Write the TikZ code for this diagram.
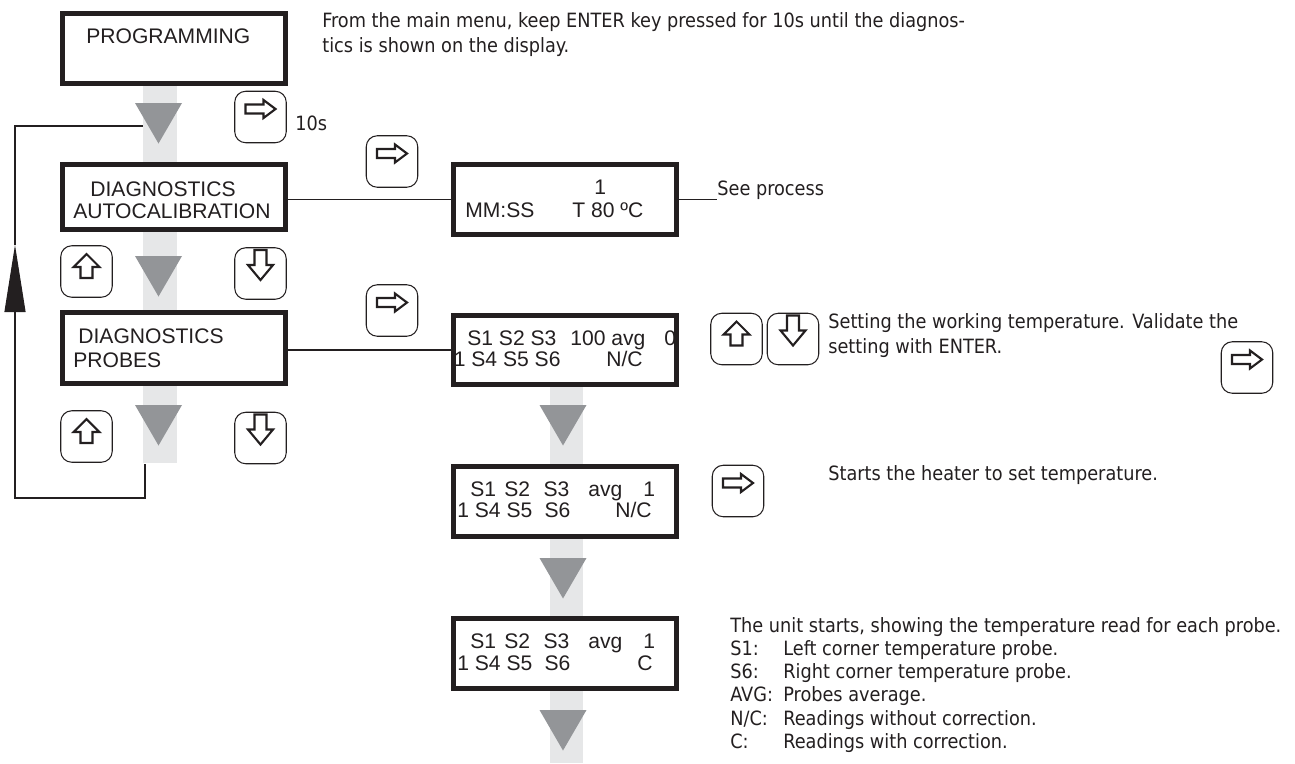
\documentclass[tikz,border=0pt]{standalone}
\usepackage{fontspec}
\setmainfont{Liberation Sans}
\newfontfamily\notefamily{DejaVu Sans Condensed}
\usetikzlibrary{arrows.meta,calc}
\definecolor{ink}{HTML}{231F20}
\definecolor{bandgray}{HTML}{E6E7E8}
\definecolor{trigray}{HTML}{939598}
\tikzset{
  lcd/.style={
    draw=ink,
    line width=2.8pt,
    fill=white,
    minimum width=4.46cm,
    minimum height=1.40cm,
    inner sep=0pt
  },
  lcdtxt/.style={
    anchor=base west,
    inner sep=0pt,
    text=ink,
    font=\fontsize{12}{12.5}\selectfont
  },
  note/.style={
    anchor=north west,
    inner sep=0pt,
    align=left,
    text=ink,
    font=\notefamily\fontsize{11.2}{14.6}\selectfont
  },
  key/.style={
    draw=ink,
    line width=0.6pt,
    rounded corners=0.22cm,
    minimum size=1.03cm,
    inner sep=0pt
  },
  keyglyph/.style={draw=ink, line width=1.2pt, fill=white, sharp corners, line join=miter},
  keyR/.style={key, path picture={
    \draw[keyglyph, shift={(path picture bounding box.center)}]
      (-0.30,0.07) -- (0.06,0.07) -- (0.06,-0.02) -- (0.30,0.16)
      -- (0.06,0.34) -- (0.06,0.25) -- (-0.30,0.25) -- cycle;}},
  keyU/.style={key, path picture={
    \draw[keyglyph, shift={(path picture bounding box.center)}]
      (-0.12,-0.13) -- (-0.12,0.09) -- (-0.26,0.09) -- (0,0.35)
      -- (0.26,0.09) -- (0.12,0.09) -- (0.12,-0.13) -- cycle;}},
  keyD/.style={key, path picture={
    \draw[keyglyph, shift={(path picture bounding box.center)}]
      (-0.12,0.47) -- (-0.12,0.17) -- (-0.25,0.17) -- (0,-0.13)
      -- (0.25,0.17) -- (0.12,0.17) -- (0.12,0.47) -- cycle;}},
  conn/.style={draw=ink, line width=0.6pt},
  loopflow/.style={conn, -{Triangle[length=1.34cm,width=0.42cm]}}
}

\begin{document}
\begin{tikzpicture}[x=1cm,y=1cm]
\useasboundingbox (0,0) rectangle (25.9,-15.26);

% Bandas grises y flechas de avance
\fill[bandgray] (2.86,-1.72) rectangle (3.54,-9.26);
\fill[bandgray] (11.00,-7.74) rectangle (11.66,-15.26);
\foreach \x/\y in {3.17/-2.06,3.17/-5.12,3.17/-8.10,11.26/-8.10,11.26/-11.16,11.26/-14.20}
  \fill[trigray] (\x-0.47,\y) -- (\x+0.47,\y) -- (\x,\y-0.81) -- cycle;

% Pantallas del menu
\node[lcd] (prog) at (3.48,-0.97) {};
\node[lcd, minimum height=1.30cm] (autocal) at (3.48,-3.94) {};
\node[lcd, minimum height=1.42cm] (probes) at (3.48,-6.96) {};
\node[lcd] (dispA) at (11.30,-3.99) {};
\node[lcd, minimum height=1.38cm] (dispB) at (11.30,-7.00) {};
\node[lcd] (dispC) at (11.30,-10.03) {};
\node[lcd] (dispD) at (11.30,-13.07) {};

% Textos de las pantallas
\node[lcdtxt] (progT) at (1.72,-0.86) {PROGRAMMING};
\node[lcdtxt] (autocalT1) at (1.80,-3.92) {DIAGNOSTICS};
\node[lcdtxt] (autocalT2) at (1.46,-4.36) {AUTOCALIBRATION};
\node[lcdtxt] (probesT1) at (1.56,-6.86) {DIAGNOSTICS};
\node[lcdtxt] (probesT2) at (1.46,-7.34) {PROBES};

\node[lcdtxt] (dispAcnt) at (11.88,-3.88) {1};
\node[lcdtxt] (dispAtime) at (9.30,-4.34) {MM:SS};
\node[lcdtxt] (dispAtemp) at (11.44,-4.34) {T 80 ºC};

\node[lcdtxt] (dispBs1) at (9.34,-6.90) {S1 S2 S3};
\node[lcdtxt] (dispBavg) at (11.40,-6.90) {100 avg};
\node[lcdtxt] (dispBval) at (13.28,-6.90) {0};
\node[lcdtxt] (dispBs4) at (9.07,-7.32) {1 S4 S5 S6};
\node[lcdtxt] (dispBnc) at (12.12,-7.32) {N/C};

\node[lcdtxt] (dispCs1) at (9.40,-9.92) {S1\hspace{4.7pt}S2\hspace{7.6pt}S3};
\node[lcdtxt] (dispCavg) at (11.76,-9.92) {avg};
\node[lcdtxt] (dispCval) at (12.86,-9.92) {1};
\node[lcdtxt] (dispCs4) at (9.14,-10.34) {1 S4 S5\hspace{7pt}S6};
\node[lcdtxt] (dispCnc) at (12.30,-10.34) {N/C};

\node[lcdtxt] (dispDs1) at (9.40,-12.96) {S1\hspace{4.7pt}S2\hspace{7.6pt}S3};
\node[lcdtxt] (dispDavg) at (11.76,-12.96) {avg};
\node[lcdtxt] (dispDval) at (12.86,-12.96) {1};
\node[lcdtxt] (dispDs4) at (9.14,-13.40) {1 S4 S5\hspace{7pt}S6};
\node[lcdtxt] (dispDc) at (12.74,-13.40) {C};

% Teclas
\node[keyR] (enterA) at (5.21,-2.34) {};
\node[keyR] (enterB) at (7.84,-3.23) {};
\node[keyU] (upA) at (1.73,-5.43) {};
\node[keyD] (downA) at (5.21,-5.47) {};
\node[keyR] (enterC) at (7.84,-6.21) {};
\node[keyU] (upB) at (1.73,-8.73) {};
\node[keyD] (downB) at (5.21,-8.76) {};
\node[keyU] (upC) at (14.73,-6.78) {};
\node[keyD] (downC) at (15.86,-6.78) {};
\node[keyR] (enterD) at (24.94,-7.35) {};
\node[keyR] (enterE) at (14.76,-9.82) {};

% Explicaciones
\node[note] (introN) at (6.44,-0.24)
  {From the main menu, keep ENTER key pressed for 10s until the diagnos-\\
   tics is shown on the display.};
\node[note, anchor=base west] (holdN) at (5.90,-2.60) {10s};
\node[note, anchor=base west] (seeN) at (14.34,-3.90) {See process};
\node[note] (setN) at (16.56,-6.26)
  {Setting the working temperature. Validate the\\setting with ENTER.};
\node[note, anchor=base west] (heatN) at (16.56,-9.60)
  {Starts the heater to set temperature.};
\node[note, font=\notefamily\fontsize{11.2}{13.2}\selectfont] (unitN) at (14.60,-12.34)
  {The unit starts, showing the temperature read for each probe.\\
   \makebox[1.06cm][l]{S1:}Left corner temperature probe.\\
   \makebox[1.06cm][l]{S6:}Right corner temperature probe.\\
   \makebox[1.06cm][l]{AVG:}Probes average.\\
   \makebox[1.06cm][l]{N/C:}Readings without correction.\\
   \makebox[1.06cm][l]{C:}Readings with correction.};

% Conexiones
\draw[conn] (dispA.west -| autocal.east) -- (dispA.west);
\draw[conn] (dispB.west -| probes.east) -- (dispB.west);
\draw[conn] (dispA.east) -- (dispA.east -| seeN.west);

% Retorno al principio del diagnostico
\coordinate (loopOut) at (2.90,-9.28);
\coordinate (loopTip) at (0.30,-4.90);
\coordinate (loopIn) at (2.86,-2.52);
\draw[loopflow] (loopOut) -- ++(0,-0.68) -| (loopTip);
\draw[conn] (loopTip) |- (loopIn);

\end{tikzpicture}
\end{document}
